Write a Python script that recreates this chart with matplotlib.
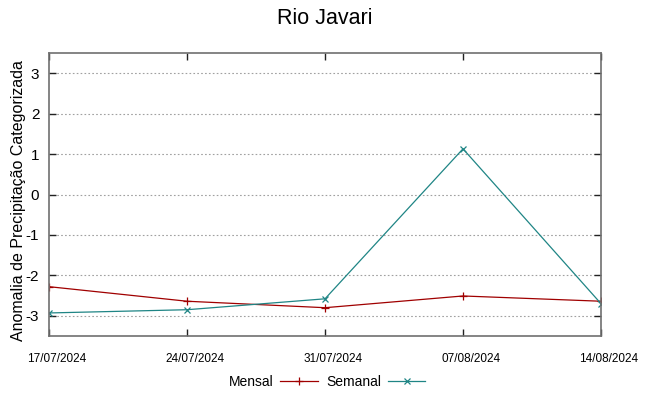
import matplotlib
matplotlib.use("Agg")
import matplotlib.pyplot as plt
import matplotlib.transforms as mtransforms
import pandas as pd

dates = ["17/07/2024", "24/07/2024", "31/07/2024", "07/08/2024", "14/08/2024"]
mensal = [-2.28, -2.64, -2.80, -2.51, -2.64]
semanal = [-2.93, -2.85, -2.58, 1.13, -2.70]
yticks = [-3, -2, -1, 0, 1, 2, 3]

plt.rcParams['font.family'] = ['Liberation Sans', 'DejaVu Sans']

x = pd.to_datetime(dates, format="%d/%m/%Y")

fig = plt.figure(figsize=(6.49, 3.96), dpi=100)
ax = fig.add_axes([49/649, 60/396, 552/649, 283/396])

l1, = ax.plot(x, mensal, color="#a00000", lw=0.9, marker="+", ms=6, mew=0.9, label="Mensal")
l2, = ax.plot(x, semanal, color="#1f8585", lw=0.9, marker="x", ms=4.5, mew=0.9, label="Semanal")

ax.set_xlim(x[0], x[-1])
ax.set_ylim(-3.5, 3.5)
ax.set_yticks(yticks)
ax.set_yticklabels([str(v) for v in yticks], fontsize=11)
ax.set_xticks(x)
ax.set_xticklabels(dates, fontsize=8.5)
ax.yaxis.grid(True, linestyle=(0, (1.5, 2)), color="#a0a0a0", lw=0.8)
ax.tick_params(direction="in", length=5, width=1, top=True, right=True, color="#222222")
ax.tick_params(axis="y", pad=7)
ax.tick_params(axis="x", pad=12)
offset = mtransforms.ScaledTranslation(8/100, 0, fig.dpi_scale_trans)
for lab in ax.get_xticklabels():
    lab.set_transform(lab.get_transform() + offset)
for s in ax.spines.values():
    s.set_color("#707070")
    s.set_linewidth(1.2)

fig.text(18.5/649, 1 - 201/396, "Anomalia de Precipitação Categorizada", rotation=90,
         ha="center", va="center", fontsize=11.5)
fig.text(325/649, 1 - 19/396, "Rio Javari", ha="center", va="center", fontsize=15.5)

fig.legend(handles=[l1, l2], loc="center", bbox_to_anchor=(327/649, 1 - 382/396),
           ncol=2, frameon=False, fontsize=10, handlelength=2.7, handletextpad=0.5,
           columnspacing=0.6, markerfirst=False)

fig.savefig("out.png", dpi=100)
